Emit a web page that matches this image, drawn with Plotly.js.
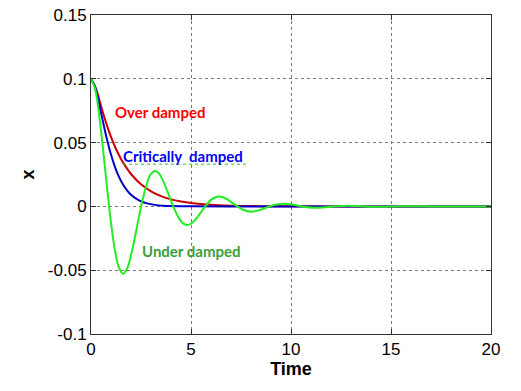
<!DOCTYPE html>
<html>
<head>
<meta charset="utf-8">
<script src="https://cdn.plot.ly/plotly-3.0.1.min.js"></script>
<style>html,body{margin:0;padding:0;background:#fff;}#chart{width:521px;height:391px;}</style>
</head>
<body>
<div id="chart"></div>
<script>
// Over damped (red)
var overT = [0, 0.25, 0.5, 0.75, 1.0, 1.25, 1.5, 1.75, 2.0, 2.5, 3.0, 3.5, 4.0, 4.5, 5.0, 6.0, 7.0, 8.0, 9.0, 10.0, 12.0, 15.0, 20.0];
var overX = [0.1, 0.0921, 0.0787, 0.0657, 0.0545, 0.0450, 0.0372, 0.0308, 0.0254, 0.0173, 0.0118, 0.0081, 0.0055, 0.0038, 0.0026, 0.0012, 0.00056, 0.00026, 0.00012, 0.00005, 0.00001, 0, 0];
// Critically damped (blue)
var critT = [0, 0.2, 0.4, 0.6, 0.8, 1.0, 1.2, 1.4, 1.6, 1.8, 2.0, 2.4, 2.8, 3.2, 3.6, 4.0, 5.0, 7.0, 10.0, 15.0, 20.0];
var critX = [0.1, 0.0938, 0.0809, 0.0663, 0.0525, 0.0406, 0.0308, 0.0231, 0.0171, 0.0126, 0.0092, 0.0048, 0.0024, 0.0012, 0.0006, 0.0003, 0.00005, 0, 0, 0, 0];
// Under damped (green)
var underT = [0, 0.2, 0.4, 0.6, 0.8, 0.904, 1.0, 1.2, 1.4, 1.603, 1.8, 2.0, 2.2, 2.507, 2.8, 3.0, 3.206, 3.4, 3.6, 3.8, 4.11, 4.4, 4.6, 4.81, 5.0, 5.2, 5.4, 5.71, 6.0, 6.2, 6.41, 6.6, 6.8, 7.0, 7.32, 7.6, 8.01, 8.4, 8.92, 9.2, 9.62, 10.0, 10.52, 10.8, 11.22, 11.6, 12.12, 12.82, 13.7, 14.43, 15.3, 16.03, 17.0, 18.0, 20.0];
var underX = [0.1, 0.0925, 0.0726, 0.0451, 0.0150, 0, -0.0128, -0.0346, -0.0481, -0.0527, -0.0488, -0.0383, -0.0239, 0, 0.0181, 0.0254, 0.0277, 0.0258, 0.0202, 0.0127, 0, -0.0094, -0.0133, -0.0146, -0.0136, -0.0107, -0.0068, 0, 0.0051, 0.0070, 0.0077, 0.0072, 0.0057, 0.0036, 0, -0.0026, -0.0041, -0.0030, 0, 0.0013, 0.0021, 0.0016, 0, -0.0007, -0.0011, -0.0008, 0, 0.0006, 0, -0.0003, 0, 0.00015, 0, 0, 0];

var xTicks = [0, 5, 10, 15, 20];
var yTicks = [-0.1, -0.05, 0, 0.05, 0.1, 0.15];
var yTickText = ['-0.1', '-0.05', '0', '0.05', '0.1', '0.15'];

var traces = [
  {x: overT, y: overX, mode: 'lines', line: {color: '#cc0000', width: 2, shape: 'spline'}, hoverinfo: 'skip'},
  {x: critT, y: critX, mode: 'lines', line: {color: '#0000cc', width: 2, shape: 'spline'}, hoverinfo: 'skip'},
  {x: underT, y: underX, mode: 'lines', line: {color: '#22ee22', width: 2, shape: 'spline'}, hoverinfo: 'skip'}
];

var axisCommon = {
  showline: true, linecolor: '#333333', linewidth: 1, mirror: 'ticks',
  ticks: 'inside', ticklen: 5, tickcolor: '#333333',
  showgrid: true, gridcolor: '#7a7a7a', griddash: 'dot', gridwidth: 1,
  zeroline: false,
  tickfont: {family: 'Liberation Sans, Arial, sans-serif', size: 17, color: '#000'}
};

var layout = {
  width: 521, height: 391,
  margin: {l: 91, r: 30, t: 15, b: 57},
  paper_bgcolor: '#ffffff', plot_bgcolor: '#ffffff',
  showlegend: false,
  xaxis: Object.assign({}, axisCommon, {
    range: [0, 20], tickmode: 'array', tickvals: xTicks, ticktext: xTicks.map(String),
    title: {text: '<b>Time</b>', font: {family: 'Liberation Sans, Arial, sans-serif', size: 18, color: '#000'}, standoff: 2}
  }),
  yaxis: Object.assign({}, axisCommon, {
    range: [-0.1, 0.15], tickmode: 'array', tickvals: yTicks, ticktext: yTickText,
    title: {text: '<b>x</b>', font: {family: 'Liberation Sans, Arial, sans-serif', size: 18, color: '#000'}, standoff: 8}
  }),
  annotations: [
    {x: 3.47, y: 0.0743, xref: 'x', yref: 'y', text: '<b>Over damped</b>', showarrow: false,
     font: {family: 'Lato, Open Sans, sans-serif', size: 15, color: '#ff0000'}},
    {x: 4.62, y: 0.0398, xref: 'x', yref: 'y', text: '<b>Critically  damped</b>', showarrow: false,
     font: {family: 'Lato, Open Sans, sans-serif', size: 15, color: '#0000ff'}},
    {x: 5.0, y: -0.0348, xref: 'x', yref: 'y', text: '<b>Under damped</b>', showarrow: false,
     font: {family: 'Lato, Open Sans, sans-serif', size: 15, color: '#3a9e3a'}}
  ],
  shapes: [
    {type: 'line', xref: 'x', yref: 'y', x0: 1.6, x1: 7.75, y0: 0.0331, y1: 0.0331,
     line: {color: '#33bb33', width: 1, dash: 'dot'}}
  ]
};

Plotly.newPlot('chart', traces, layout, {staticPlot: true, displayModeBar: false});
</script>
</body>
</html>
